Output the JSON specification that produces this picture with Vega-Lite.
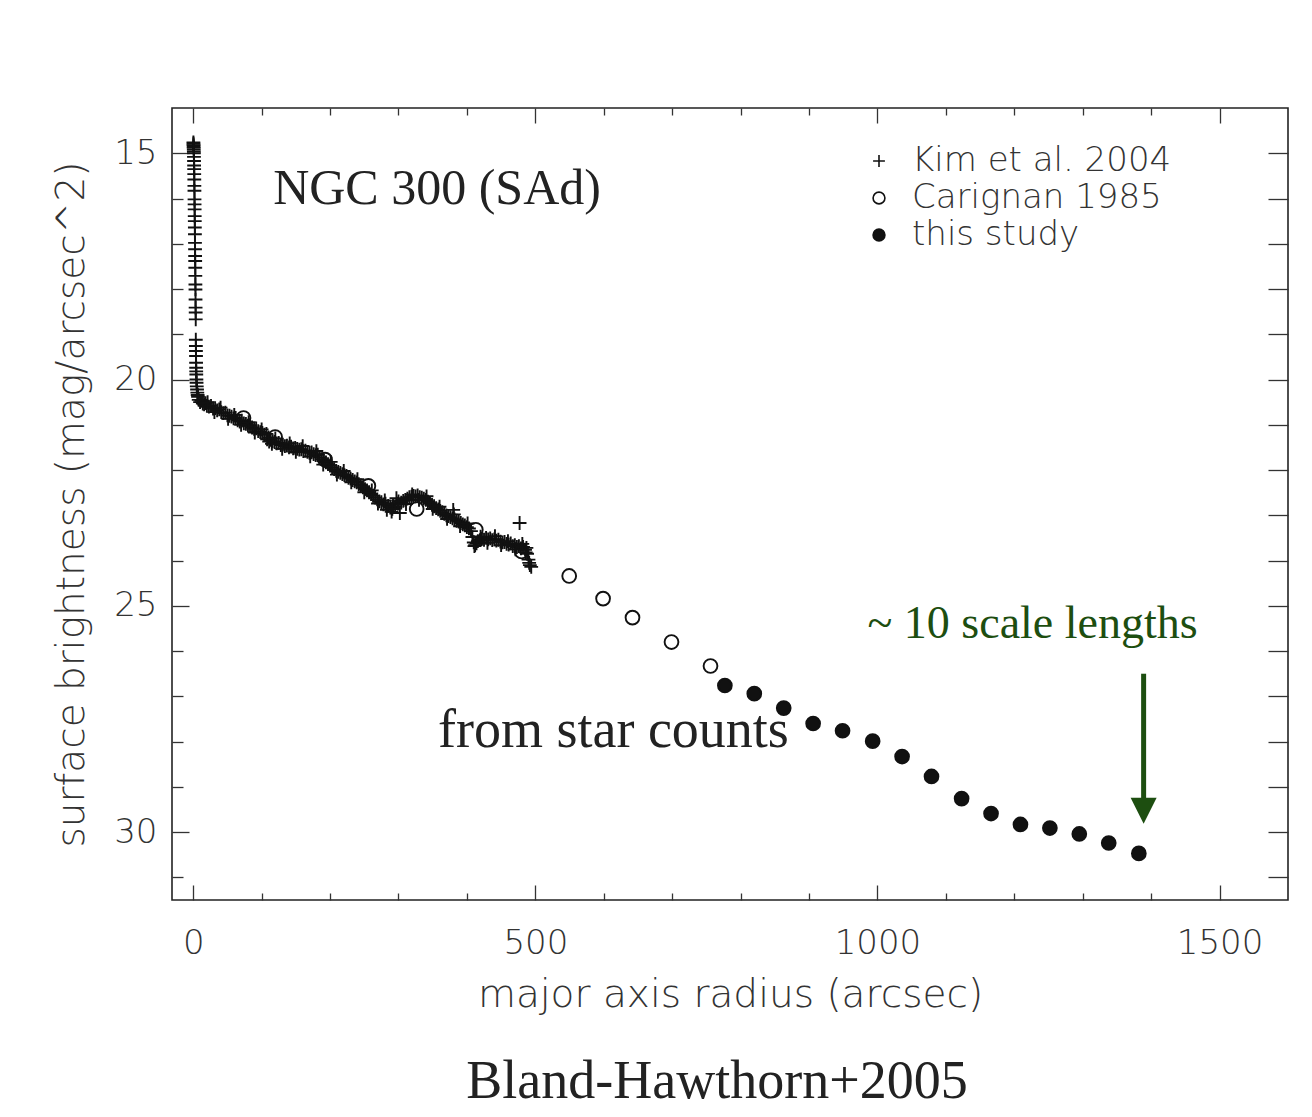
{
  "$schema": "https://vega.github.io/schema/vega-lite/v6.json",
  "width": 1116,
  "height": 792,
  "autosize": "none",
  "padding": {"left": 172, "top": 108, "right": 24, "bottom": 217},
  "background": "white",
  "config": {
    "view": {"stroke": "#222", "strokeWidth": 1.6},
    "font": "DejaVu Sans"
  },
  "title": {
    "text": "Bland-Hawthorn+2005",
    "orient": "bottom",
    "anchor": "middle",
    "dx": -13,
    "offset": 41,
    "font": "Liberation Serif",
    "fontSize": 54,
    "fontWeight": "normal",
    "color": "#222"
  },
  "datasets": {
    "points": [
      {"r": 0.3, "mu": 14.76, "src": "Kim et al. 2004"},
      {"r": 0.4, "mu": 14.79, "src": "Kim et al. 2004"},
      {"r": 0.5, "mu": 14.82, "src": "Kim et al. 2004"},
      {"r": 0.6, "mu": 14.85, "src": "Kim et al. 2004"},
      {"r": 0.7, "mu": 14.88, "src": "Kim et al. 2004"},
      {"r": 0.8, "mu": 14.92, "src": "Kim et al. 2004"},
      {"r": 0.9, "mu": 14.96, "src": "Kim et al. 2004"},
      {"r": 1.0, "mu": 15.0, "src": "Kim et al. 2004"},
      {"r": 1.1, "mu": 15.08, "src": "Kim et al. 2004"},
      {"r": 1.2, "mu": 15.17, "src": "Kim et al. 2004"},
      {"r": 1.3, "mu": 15.27, "src": "Kim et al. 2004"},
      {"r": 1.4, "mu": 15.35, "src": "Kim et al. 2004"},
      {"r": 1.5, "mu": 15.46, "src": "Kim et al. 2004"},
      {"r": 1.6, "mu": 15.58, "src": "Kim et al. 2004"},
      {"r": 1.7, "mu": 15.72, "src": "Kim et al. 2004"},
      {"r": 1.8, "mu": 15.83, "src": "Kim et al. 2004"},
      {"r": 1.9, "mu": 16.02, "src": "Kim et al. 2004"},
      {"r": 2.0, "mu": 16.13, "src": "Kim et al. 2004"},
      {"r": 2.1, "mu": 16.24, "src": "Kim et al. 2004"},
      {"r": 2.2, "mu": 16.39, "src": "Kim et al. 2004"},
      {"r": 2.3, "mu": 16.5, "src": "Kim et al. 2004"},
      {"r": 2.4, "mu": 16.64, "src": "Kim et al. 2004"},
      {"r": 2.5, "mu": 16.79, "src": "Kim et al. 2004"},
      {"r": 2.6, "mu": 16.98, "src": "Kim et al. 2004"},
      {"r": 2.7, "mu": 17.12, "src": "Kim et al. 2004"},
      {"r": 2.8, "mu": 17.27, "src": "Kim et al. 2004"},
      {"r": 2.9, "mu": 17.38, "src": "Kim et al. 2004"},
      {"r": 3.0, "mu": 17.53, "src": "Kim et al. 2004"},
      {"r": 3.1, "mu": 17.71, "src": "Kim et al. 2004"},
      {"r": 3.2, "mu": 17.9, "src": "Kim et al. 2004"},
      {"r": 3.3, "mu": 18.01, "src": "Kim et al. 2004"},
      {"r": 3.4, "mu": 18.23, "src": "Kim et al. 2004"},
      {"r": 3.5, "mu": 18.41, "src": "Kim et al. 2004"},
      {"r": 3.6, "mu": 18.52, "src": "Kim et al. 2004"},
      {"r": 3.7, "mu": 18.67, "src": "Kim et al. 2004"},
      {"r": 3.8, "mu": 19.12, "src": "Kim et al. 2004"},
      {"r": 3.9, "mu": 19.26, "src": "Kim et al. 2004"},
      {"r": 4.0, "mu": 19.37, "src": "Kim et al. 2004"},
      {"r": 4.1, "mu": 19.48, "src": "Kim et al. 2004"},
      {"r": 4.2, "mu": 19.63, "src": "Kim et al. 2004"},
      {"r": 4.3, "mu": 19.74, "src": "Kim et al. 2004"},
      {"r": 4.4, "mu": 19.82, "src": "Kim et al. 2004"},
      {"r": 4.5, "mu": 19.89, "src": "Kim et al. 2004"},
      {"r": 4.7, "mu": 20.0, "src": "Kim et al. 2004"},
      {"r": 4.9, "mu": 20.07, "src": "Kim et al. 2004"},
      {"r": 5.2, "mu": 20.15, "src": "Kim et al. 2004"},
      {"r": 5.6, "mu": 20.22, "src": "Kim et al. 2004"},
      {"r": 6.0, "mu": 20.29, "src": "Kim et al. 2004"},
      {"r": 6.5, "mu": 20.34, "src": "Kim et al. 2004"},
      {"r": 7, "mu": 20.38, "src": "Kim et al. 2004"},
      {"r": 8, "mu": 20.45, "src": "Kim et al. 2004"},
      {"r": 10, "mu": 20.5, "src": "Kim et al. 2004"},
      {"r": 12, "mu": 20.47, "src": "Kim et al. 2004"},
      {"r": 14, "mu": 20.53, "src": "Kim et al. 2004"},
      {"r": 16, "mu": 20.55, "src": "Kim et al. 2004"},
      {"r": 18, "mu": 20.52, "src": "Kim et al. 2004"},
      {"r": 20, "mu": 20.58, "src": "Kim et al. 2004"},
      {"r": 23, "mu": 20.6, "src": "Kim et al. 2004"},
      {"r": 26, "mu": 20.58, "src": "Kim et al. 2004"},
      {"r": 29, "mu": 20.64, "src": "Kim et al. 2004"},
      {"r": 32, "mu": 20.63, "src": "Kim et al. 2004"},
      {"r": 35, "mu": 20.68, "src": "Kim et al. 2004"},
      {"r": 38, "mu": 20.66, "src": "Kim et al. 2004"},
      {"r": 41, "mu": 20.72, "src": "Kim et al. 2004"},
      {"r": 44, "mu": 20.74, "src": "Kim et al. 2004"},
      {"r": 47, "mu": 20.73, "src": "Kim et al. 2004"},
      {"r": 50, "mu": 20.79, "src": "Kim et al. 2004"},
      {"r": 53, "mu": 20.8, "src": "Kim et al. 2004"},
      {"r": 56, "mu": 20.82, "src": "Kim et al. 2004"},
      {"r": 59, "mu": 20.86, "src": "Kim et al. 2004"},
      {"r": 62, "mu": 20.85, "src": "Kim et al. 2004"},
      {"r": 65, "mu": 20.9, "src": "Kim et al. 2004"},
      {"r": 68, "mu": 20.93, "src": "Kim et al. 2004"},
      {"r": 71, "mu": 20.91, "src": "Kim et al. 2004"},
      {"r": 74, "mu": 20.97, "src": "Kim et al. 2004"},
      {"r": 77, "mu": 20.98, "src": "Kim et al. 2004"},
      {"r": 80, "mu": 21.02, "src": "Kim et al. 2004"},
      {"r": 83, "mu": 21.01, "src": "Kim et al. 2004"},
      {"r": 86, "mu": 21.06, "src": "Kim et al. 2004"},
      {"r": 89, "mu": 21.09, "src": "Kim et al. 2004"},
      {"r": 92, "mu": 21.08, "src": "Kim et al. 2004"},
      {"r": 95, "mu": 21.14, "src": "Kim et al. 2004"},
      {"r": 98, "mu": 21.16, "src": "Kim et al. 2004"},
      {"r": 101, "mu": 21.18, "src": "Kim et al. 2004"},
      {"r": 104, "mu": 21.22, "src": "Kim et al. 2004"},
      {"r": 107, "mu": 21.2, "src": "Kim et al. 2004"},
      {"r": 108, "mu": 21.32, "src": "Kim et al. 2004"},
      {"r": 110, "mu": 21.28, "src": "Kim et al. 2004"},
      {"r": 113, "mu": 21.33, "src": "Kim et al. 2004"},
      {"r": 115, "mu": 21.42, "src": "Kim et al. 2004"},
      {"r": 116, "mu": 21.36, "src": "Kim et al. 2004"},
      {"r": 119, "mu": 21.38, "src": "Kim et al. 2004"},
      {"r": 122, "mu": 21.41, "src": "Kim et al. 2004"},
      {"r": 125, "mu": 21.4, "src": "Kim et al. 2004"},
      {"r": 128, "mu": 21.45, "src": "Kim et al. 2004"},
      {"r": 131, "mu": 21.44, "src": "Kim et al. 2004"},
      {"r": 134, "mu": 21.47, "src": "Kim et al. 2004"},
      {"r": 137, "mu": 21.46, "src": "Kim et al. 2004"},
      {"r": 140, "mu": 21.5, "src": "Kim et al. 2004"},
      {"r": 143, "mu": 21.48, "src": "Kim et al. 2004"},
      {"r": 146, "mu": 21.52, "src": "Kim et al. 2004"},
      {"r": 149, "mu": 21.51, "src": "Kim et al. 2004"},
      {"r": 152, "mu": 21.53, "src": "Kim et al. 2004"},
      {"r": 155, "mu": 21.55, "src": "Kim et al. 2004"},
      {"r": 158, "mu": 21.54, "src": "Kim et al. 2004"},
      {"r": 161, "mu": 21.58, "src": "Kim et al. 2004"},
      {"r": 164, "mu": 21.57, "src": "Kim et al. 2004"},
      {"r": 167, "mu": 21.6, "src": "Kim et al. 2004"},
      {"r": 170, "mu": 21.62, "src": "Kim et al. 2004"},
      {"r": 173, "mu": 21.61, "src": "Kim et al. 2004"},
      {"r": 176, "mu": 21.65, "src": "Kim et al. 2004"},
      {"r": 179, "mu": 21.67, "src": "Kim et al. 2004"},
      {"r": 182, "mu": 21.66, "src": "Kim et al. 2004"},
      {"r": 185, "mu": 21.72, "src": "Kim et al. 2004"},
      {"r": 188, "mu": 21.76, "src": "Kim et al. 2004"},
      {"r": 191, "mu": 21.8, "src": "Kim et al. 2004"},
      {"r": 194, "mu": 21.83, "src": "Kim et al. 2004"},
      {"r": 197, "mu": 21.87, "src": "Kim et al. 2004"},
      {"r": 200, "mu": 21.9, "src": "Kim et al. 2004"},
      {"r": 203, "mu": 21.94, "src": "Kim et al. 2004"},
      {"r": 206, "mu": 21.98, "src": "Kim et al. 2004"},
      {"r": 209, "mu": 22.02, "src": "Kim et al. 2004"},
      {"r": 212, "mu": 22.04, "src": "Kim et al. 2004"},
      {"r": 215, "mu": 22.06, "src": "Kim et al. 2004"},
      {"r": 218, "mu": 22.09, "src": "Kim et al. 2004"},
      {"r": 221, "mu": 22.11, "src": "Kim et al. 2004"},
      {"r": 224, "mu": 22.13, "src": "Kim et al. 2004"},
      {"r": 227, "mu": 22.17, "src": "Kim et al. 2004"},
      {"r": 230, "mu": 22.19, "src": "Kim et al. 2004"},
      {"r": 233, "mu": 22.22, "src": "Kim et al. 2004"},
      {"r": 236, "mu": 22.25, "src": "Kim et al. 2004"},
      {"r": 239, "mu": 22.27, "src": "Kim et al. 2004"},
      {"r": 242, "mu": 22.31, "src": "Kim et al. 2004"},
      {"r": 245, "mu": 22.34, "src": "Kim et al. 2004"},
      {"r": 248, "mu": 22.38, "src": "Kim et al. 2004"},
      {"r": 251, "mu": 22.42, "src": "Kim et al. 2004"},
      {"r": 254, "mu": 22.45, "src": "Kim et al. 2004"},
      {"r": 257, "mu": 22.49, "src": "Kim et al. 2004"},
      {"r": 260, "mu": 22.53, "src": "Kim et al. 2004"},
      {"r": 263, "mu": 22.57, "src": "Kim et al. 2004"},
      {"r": 266, "mu": 22.61, "src": "Kim et al. 2004"},
      {"r": 269, "mu": 22.65, "src": "Kim et al. 2004"},
      {"r": 272, "mu": 22.69, "src": "Kim et al. 2004"},
      {"r": 275, "mu": 22.71, "src": "Kim et al. 2004"},
      {"r": 278, "mu": 22.76, "src": "Kim et al. 2004"},
      {"r": 281, "mu": 22.74, "src": "Kim et al. 2004"},
      {"r": 283, "mu": 22.88, "src": "Kim et al. 2004"},
      {"r": 285, "mu": 22.79, "src": "Kim et al. 2004"},
      {"r": 288, "mu": 22.83, "src": "Kim et al. 2004"},
      {"r": 290, "mu": 22.92, "src": "Kim et al. 2004"},
      {"r": 292, "mu": 22.77, "src": "Kim et al. 2004"},
      {"r": 295, "mu": 22.8, "src": "Kim et al. 2004"},
      {"r": 297, "mu": 22.62, "src": "Kim et al. 2004"},
      {"r": 299, "mu": 22.74, "src": "Kim et al. 2004"},
      {"r": 302, "mu": 22.95, "src": "Kim et al. 2004"},
      {"r": 304, "mu": 22.72, "src": "Kim et al. 2004"},
      {"r": 307, "mu": 22.68, "src": "Kim et al. 2004"},
      {"r": 310, "mu": 22.66, "src": "Kim et al. 2004"},
      {"r": 313, "mu": 22.63, "src": "Kim et al. 2004"},
      {"r": 316, "mu": 22.6, "src": "Kim et al. 2004"},
      {"r": 319, "mu": 22.59, "src": "Kim et al. 2004"},
      {"r": 322, "mu": 22.57, "src": "Kim et al. 2004"},
      {"r": 325, "mu": 22.58, "src": "Kim et al. 2004"},
      {"r": 328, "mu": 22.56, "src": "Kim et al. 2004"},
      {"r": 331, "mu": 22.6, "src": "Kim et al. 2004"},
      {"r": 334, "mu": 22.61, "src": "Kim et al. 2004"},
      {"r": 337, "mu": 22.63, "src": "Kim et al. 2004"},
      {"r": 340, "mu": 22.66, "src": "Kim et al. 2004"},
      {"r": 343, "mu": 22.7, "src": "Kim et al. 2004"},
      {"r": 346, "mu": 22.73, "src": "Kim et al. 2004"},
      {"r": 349, "mu": 22.77, "src": "Kim et al. 2004"},
      {"r": 352, "mu": 22.8, "src": "Kim et al. 2004"},
      {"r": 355, "mu": 22.84, "src": "Kim et al. 2004"},
      {"r": 358, "mu": 22.87, "src": "Kim et al. 2004"},
      {"r": 361, "mu": 22.9, "src": "Kim et al. 2004"},
      {"r": 364, "mu": 22.93, "src": "Kim et al. 2004"},
      {"r": 367, "mu": 22.97, "src": "Kim et al. 2004"},
      {"r": 370, "mu": 23.0, "src": "Kim et al. 2004"},
      {"r": 373, "mu": 23.02, "src": "Kim et al. 2004"},
      {"r": 376, "mu": 23.04, "src": "Kim et al. 2004"},
      {"r": 379, "mu": 23.07, "src": "Kim et al. 2004"},
      {"r": 380, "mu": 22.88, "src": "Kim et al. 2004"},
      {"r": 382, "mu": 23.09, "src": "Kim et al. 2004"},
      {"r": 385, "mu": 23.12, "src": "Kim et al. 2004"},
      {"r": 388, "mu": 23.14, "src": "Kim et al. 2004"},
      {"r": 391, "mu": 23.17, "src": "Kim et al. 2004"},
      {"r": 394, "mu": 23.2, "src": "Kim et al. 2004"},
      {"r": 397, "mu": 23.22, "src": "Kim et al. 2004"},
      {"r": 400, "mu": 23.26, "src": "Kim et al. 2004"},
      {"r": 403, "mu": 23.29, "src": "Kim et al. 2004"},
      {"r": 406, "mu": 23.35, "src": "Kim et al. 2004"},
      {"r": 408, "mu": 23.48, "src": "Kim et al. 2004"},
      {"r": 410, "mu": 23.6, "src": "Kim et al. 2004"},
      {"r": 412, "mu": 23.66, "src": "Kim et al. 2004"},
      {"r": 414, "mu": 23.62, "src": "Kim et al. 2004"},
      {"r": 416, "mu": 23.57, "src": "Kim et al. 2004"},
      {"r": 419, "mu": 23.55, "src": "Kim et al. 2004"},
      {"r": 422, "mu": 23.52, "src": "Kim et al. 2004"},
      {"r": 425, "mu": 23.54, "src": "Kim et al. 2004"},
      {"r": 428, "mu": 23.5, "src": "Kim et al. 2004"},
      {"r": 431, "mu": 23.53, "src": "Kim et al. 2004"},
      {"r": 434, "mu": 23.51, "src": "Kim et al. 2004"},
      {"r": 437, "mu": 23.55, "src": "Kim et al. 2004"},
      {"r": 440, "mu": 23.53, "src": "Kim et al. 2004"},
      {"r": 443, "mu": 23.56, "src": "Kim et al. 2004"},
      {"r": 446, "mu": 23.54, "src": "Kim et al. 2004"},
      {"r": 449, "mu": 23.58, "src": "Kim et al. 2004"},
      {"r": 452, "mu": 23.6, "src": "Kim et al. 2004"},
      {"r": 455, "mu": 23.59, "src": "Kim et al. 2004"},
      {"r": 458, "mu": 23.63, "src": "Kim et al. 2004"},
      {"r": 461, "mu": 23.65, "src": "Kim et al. 2004"},
      {"r": 464, "mu": 23.62, "src": "Kim et al. 2004"},
      {"r": 467, "mu": 23.68, "src": "Kim et al. 2004"},
      {"r": 470, "mu": 23.66, "src": "Kim et al. 2004"},
      {"r": 473, "mu": 23.7, "src": "Kim et al. 2004"},
      {"r": 476, "mu": 23.68, "src": "Kim et al. 2004"},
      {"r": 477, "mu": 23.17, "src": "Kim et al. 2004"},
      {"r": 479, "mu": 23.73, "src": "Kim et al. 2004"},
      {"r": 482, "mu": 23.7, "src": "Kim et al. 2004"},
      {"r": 485, "mu": 23.76, "src": "Kim et al. 2004"},
      {"r": 487, "mu": 23.72, "src": "Kim et al. 2004"},
      {"r": 488, "mu": 23.85, "src": "Kim et al. 2004"},
      {"r": 490, "mu": 23.98, "src": "Kim et al. 2004"},
      {"r": 491, "mu": 24.05, "src": "Kim et al. 2004"},
      {"r": 492, "mu": 24.1, "src": "Kim et al. 2004"},
      {"r": 494, "mu": 24.14, "src": "Kim et al. 2004"},
      {"r": 21, "mu": 20.5, "src": "Kim et al. 2004"},
      {"r": 31, "mu": 20.72, "src": "Kim et al. 2004"},
      {"r": 40, "mu": 20.62, "src": "Kim et al. 2004"},
      {"r": 51, "mu": 20.87, "src": "Kim et al. 2004"},
      {"r": 60, "mu": 20.78, "src": "Kim et al. 2004"},
      {"r": 70, "mu": 21.0, "src": "Kim et al. 2004"},
      {"r": 81, "mu": 20.94, "src": "Kim et al. 2004"},
      {"r": 90, "mu": 21.17, "src": "Kim et al. 2004"},
      {"r": 100, "mu": 21.1, "src": "Kim et al. 2004"},
      {"r": 111, "mu": 21.37, "src": "Kim et al. 2004"},
      {"r": 120, "mu": 21.3, "src": "Kim et al. 2004"},
      {"r": 130, "mu": 21.53, "src": "Kim et al. 2004"},
      {"r": 141, "mu": 21.41, "src": "Kim et al. 2004"},
      {"r": 150, "mu": 21.6, "src": "Kim et al. 2004"},
      {"r": 160, "mu": 21.47, "src": "Kim et al. 2004"},
      {"r": 171, "mu": 21.7, "src": "Kim et al. 2004"},
      {"r": 180, "mu": 21.58, "src": "Kim et al. 2004"},
      {"r": 190, "mu": 21.88, "src": "Kim et al. 2004"},
      {"r": 201, "mu": 21.82, "src": "Kim et al. 2004"},
      {"r": 210, "mu": 22.1, "src": "Kim et al. 2004"},
      {"r": 220, "mu": 22.02, "src": "Kim et al. 2004"},
      {"r": 231, "mu": 22.27, "src": "Kim et al. 2004"},
      {"r": 240, "mu": 22.2, "src": "Kim et al. 2004"},
      {"r": 250, "mu": 22.49, "src": "Kim et al. 2004"},
      {"r": 261, "mu": 22.45, "src": "Kim et al. 2004"},
      {"r": 270, "mu": 22.74, "src": "Kim et al. 2004"},
      {"r": 280, "mu": 22.67, "src": "Kim et al. 2004"},
      {"r": 291, "mu": 22.86, "src": "Kim et al. 2004"},
      {"r": 300, "mu": 22.69, "src": "Kim et al. 2004"},
      {"r": 311, "mu": 22.75, "src": "Kim et al. 2004"},
      {"r": 320, "mu": 22.54, "src": "Kim et al. 2004"},
      {"r": 330, "mu": 22.66, "src": "Kim et al. 2004"},
      {"r": 341, "mu": 22.58, "src": "Kim et al. 2004"},
      {"r": 350, "mu": 22.86, "src": "Kim et al. 2004"},
      {"r": 360, "mu": 22.81, "src": "Kim et al. 2004"},
      {"r": 371, "mu": 23.08, "src": "Kim et al. 2004"},
      {"r": 381, "mu": 22.98, "src": "Kim et al. 2004"},
      {"r": 390, "mu": 23.24, "src": "Kim et al. 2004"},
      {"r": 401, "mu": 23.18, "src": "Kim et al. 2004"},
      {"r": 411, "mu": 23.68, "src": "Kim et al. 2004"},
      {"r": 420, "mu": 23.47, "src": "Kim et al. 2004"},
      {"r": 430, "mu": 23.61, "src": "Kim et al. 2004"},
      {"r": 441, "mu": 23.46, "src": "Kim et al. 2004"},
      {"r": 450, "mu": 23.66, "src": "Kim et al. 2004"},
      {"r": 460, "mu": 23.57, "src": "Kim et al. 2004"},
      {"r": 471, "mu": 23.75, "src": "Kim et al. 2004"},
      {"r": 481, "mu": 23.63, "src": "Kim et al. 2004"},
      {"r": 486, "mu": 23.82, "src": "Kim et al. 2004"},
      {"r": 73.5, "mu": 20.85, "src": "Carignan 1985"},
      {"r": 119.7, "mu": 21.27, "src": "Carignan 1985"},
      {"r": 192.7, "mu": 21.77, "src": "Carignan 1985"},
      {"r": 256, "mu": 22.35, "src": "Carignan 1985"},
      {"r": 326.6, "mu": 22.86, "src": "Carignan 1985"},
      {"r": 413, "mu": 23.32, "src": "Carignan 1985"},
      {"r": 480, "mu": 23.8, "src": "Carignan 1985"},
      {"r": 549.5, "mu": 24.34, "src": "Carignan 1985"},
      {"r": 599, "mu": 24.84, "src": "Carignan 1985"},
      {"r": 642, "mu": 25.26, "src": "Carignan 1985"},
      {"r": 699, "mu": 25.8, "src": "Carignan 1985"},
      {"r": 756, "mu": 26.33, "src": "Carignan 1985"},
      {"r": 777, "mu": 26.76, "src": "this study"},
      {"r": 820, "mu": 26.94, "src": "this study"},
      {"r": 863, "mu": 27.26, "src": "this study"},
      {"r": 906, "mu": 27.6, "src": "this study"},
      {"r": 949, "mu": 27.76, "src": "this study"},
      {"r": 993, "mu": 27.99, "src": "this study"},
      {"r": 1036, "mu": 28.33, "src": "this study"},
      {"r": 1079, "mu": 28.77, "src": "this study"},
      {"r": 1123, "mu": 29.26, "src": "this study"},
      {"r": 1166, "mu": 29.59, "src": "this study"},
      {"r": 1209, "mu": 29.83, "src": "this study"},
      {"r": 1252, "mu": 29.91, "src": "this study"},
      {"r": 1295, "mu": 30.04, "src": "this study"},
      {"r": 1338, "mu": 30.24, "src": "this study"},
      {"r": 1382, "mu": 30.47, "src": "this study"}
    ],
    "notes": [
      {"r": 116.8, "mu": 16.13, "label": "NGC 300 (SAd)"}
    ],
    "notes2": [
      {"r": 357.7, "mu": 28.11, "label": "from star counts"}
    ],
    "marker": [
      {"r": 985.4, "mu": 25.71, "label": "~ 10 scale lengths", "top": 26.5, "bottom": 29.3, "tip": 29.53}
    ]
  },
  "layer": [
    {
      "data": {"name": "points"},
      "mark": {"type": "point", "filled": true, "strokeWidth": 1.9, "size": 190, "opacity": 1},
      "encoding": {
        "x": {
          "field": "r", "type": "quantitative",
          "scale": {"domain": [-31, 1600], "nice": false, "zero": false},
          "axis": {
            "orient": "bottom",
            "values": [0, 100, 200, 300, 400, 500, 600, 700, 800, 900, 1000, 1100, 1200, 1300, 1400, 1500],
            "format": "d",
            "labelExpr": "datum.value % 500 === 0 ? datum.label : ''",
            "tickSize": {"condition": {"test": "datum.value % 500 === 0", "value": -15}, "value": -7},
            "tickColor": "#333", "tickWidth": 1.3,
            "domain": false, "grid": false,
            "labelFont": "DejaVu Sans", "labelFontSize": 34, "labelFontWeight": 200, "labelColor": "#333",
            "labelPadding": 41, "labelFlush": false, "labelOverlap": false,
            "title": "major axis radius (arcsec)",
            "titleFont": "DejaVu Sans", "titleFontSize": 39, "titleFontWeight": 200, "titleColor": "#333",
            "titlePadding": 7
          }
        },
        "y": {
          "field": "mu", "type": "quantitative",
          "scale": {"domain": [14, 31.5], "nice": false, "zero": false, "reverse": true},
          "axis": {
            "orient": "left",
            "values": [15, 16, 17, 18, 19, 20, 21, 22, 23, 24, 25, 26, 27, 28, 29, 30, 31],
            "format": "d",
            "labelExpr": "datum.value % 5 === 0 ? datum.label : ''",
            "tickSize": {"condition": {"test": "datum.value % 5 === 0", "value": -17}, "value": -11},
            "tickColor": "#333", "tickWidth": 1.3,
            "domain": false, "grid": false,
            "labelFont": "DejaVu Sans", "labelFontSize": 34, "labelFontWeight": 200, "labelColor": "#333",
            "labelPadding": 32, "labelFlush": false, "labelOverlap": false,
            "title": "surface brightness (mag/arcsec^2)",
            "titleFont": "DejaVu Sans", "titleFontSize": 39, "titleFontWeight": 200, "titleColor": "#333",
            "titlePadding": 22
          }
        },
        "shape": {
          "field": "src", "type": "nominal",
          "scale": {"domain": ["Kim et al. 2004", "Carignan 1985", "this study"], "range": ["M-1,0L1,0M0,-1L0,1", "circle", "circle"]},
          "legend": {
            "orient": "none", "legendX": 690, "legendY": 36, "title": null, "padding": 0,
            "labelFont": "DejaVu Sans", "labelFontSize": 34, "labelFontWeight": 200, "labelColor": "#333", "labelLimit": 500,
            "labelOffset": 16, "rowPadding": 3, "symbolSize": 140, "symbolStrokeWidth": 1.6
          }
        },
        "fill": {
          "field": "src", "type": "nominal",
          "scale": {"domain": ["Kim et al. 2004", "Carignan 1985", "this study"], "range": ["#111", "transparent", "#111"]},
          "legend": {
            "orient": "none", "legendX": 690, "legendY": 36, "title": null, "padding": 0,
            "labelFont": "DejaVu Sans", "labelFontSize": 34, "labelFontWeight": 200, "labelColor": "#333", "labelLimit": 500,
            "labelOffset": 16, "rowPadding": 3, "symbolSize": 140, "symbolStrokeWidth": 1.6
          }
        },
        "stroke": {
          "field": "src", "type": "nominal",
          "scale": {"domain": ["Kim et al. 2004", "Carignan 1985", "this study"], "range": ["#111", "#111", "#111"]},
          "legend": {
            "orient": "none", "legendX": 690, "legendY": 36, "title": null, "padding": 0,
            "labelFont": "DejaVu Sans", "labelFontSize": 34, "labelFontWeight": 200, "labelColor": "#333", "labelLimit": 500,
            "labelOffset": 16, "rowPadding": 3, "symbolSize": 140, "symbolStrokeWidth": 1.6
          }
        }
      }
    },
    {
      "data": {"name": "notes"},
      "mark": {"type": "text", "align": "left", "baseline": "alphabetic", "font": "Liberation Serif", "fontSize": 50, "color": "#222"},
      "encoding": {
        "x": {
          "field": "r", "type": "quantitative",
          "axis": {
            "orient": "top",
            "values": [0, 100, 200, 300, 400, 500, 600, 700, 800, 900, 1000, 1100, 1200, 1300, 1400, 1500],
            "labels": false, "title": null, "domain": false, "grid": false,
            "tickSize": {"condition": {"test": "datum.value % 500 === 0", "value": -15}, "value": -7},
            "tickColor": "#333", "tickWidth": 1.3
          }
        },
        "y": {
          "field": "mu", "type": "quantitative",
          "axis": {
            "orient": "right",
            "values": [15, 16, 17, 18, 19, 20, 21, 22, 23, 24, 25, 26, 27, 28, 29, 30, 31],
            "labels": false, "title": null, "domain": false, "grid": false,
            "tickSize": -20, "tickColor": "#333", "tickWidth": 1.3
          }
        },
        "text": {"field": "label", "type": "nominal"}
      }
    },
    {
      "data": {"name": "notes2"},
      "mark": {"type": "text", "align": "left", "baseline": "alphabetic", "font": "Liberation Serif", "fontSize": 54, "color": "#222"},
      "encoding": {
        "x": {"field": "r", "type": "quantitative", "axis": null},
        "y": {"field": "mu", "type": "quantitative", "axis": null},
        "text": {"field": "label", "type": "nominal"}
      }
    },
    {
      "data": {"name": "marker"},
      "mark": {"type": "text", "align": "left", "baseline": "alphabetic", "font": "Liberation Serif", "fontSize": 46, "color": "#1d4e10"},
      "encoding": {
        "x": {"field": "r", "type": "quantitative", "axis": null},
        "y": {"field": "mu", "type": "quantitative", "axis": null},
        "text": {"field": "label", "type": "nominal"}
      }
    },
    {
      "data": {"name": "marker"},
      "mark": {"type": "rule", "color": "#1d4e10", "strokeWidth": 5},
      "encoding": {
        "x": {"datum": 1389, "type": "quantitative", "axis": null},
        "y": {"field": "top", "type": "quantitative", "axis": null},
        "y2": {"field": "bottom"}
      }
    },
    {
      "data": {"name": "marker"},
      "mark": {"type": "point", "shape": "M-1,-1L1,-1L0,1Z", "filled": true, "color": "#1d4e10", "size": 676, "opacity": 1},
      "encoding": {
        "x": {"datum": 1389, "type": "quantitative", "axis": null},
        "y": {"field": "tip", "type": "quantitative", "axis": null}
      }
    }
  ],
  "resolve": {"axis": {"x": "independent", "y": "independent"}}
}
